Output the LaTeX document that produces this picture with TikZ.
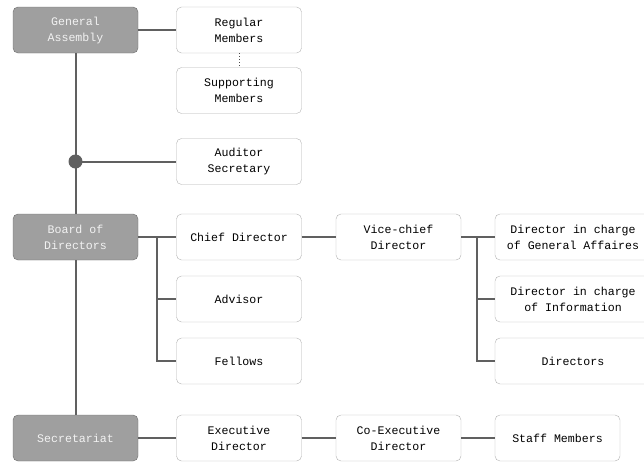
\documentclass[tikz,border=0pt]{standalone}
\usepackage{fontspec}
\setmonofont{Liberation Mono}
\begin{document}
\begin{tikzpicture}[x=1pt,y=-1pt,
  head/.style={draw=gray!85!black,fill=gray!75,rounded corners=5pt,minimum width=125pt,minimum height=46pt,
    text=gray!10,font=\ttfamily\fontsize{11.6}{16}\selectfont,align=center,inner sep=0pt},
  unit/.style={draw=gray!60,fill=white,rounded corners=5pt,minimum width=125pt,minimum height=46pt,
    text=black,font=\ttfamily\fontsize{11.6}{16}\selectfont,align=center,inner sep=0pt},
  link/.style={draw=gray!75!black,line width=2pt}]
  \useasboundingbox (0,0) rectangle (644,461);

  \node[head] (ga) at (75.5,30) {General\\Assembly};
  \node[head] (bd) at (75.5,237) {Board of\\Directors};
  \node[head] (sec) at (75.5,438) {Secretariat};

  \node[unit] (reg) at (239,30) {Regular\\Members};
  \node[unit] (sup) at (239,90.5) {Supporting\\Members};
  \node[unit] (aud) at (239,161.5) {Auditor\\Secretary};
  \node[unit] (chief) at (239,237) {Chief Director};
  \node[unit] (adv) at (239,299) {Advisor};
  \node[unit] (fel) at (239,361) {Fellows};
  \node[unit] (exec) at (239,438) {Executive\\Director};

  \node[unit] (vice) at (398.5,237) {Vice-chief\\Director};
  \node[unit] (coexec) at (398.5,438) {Co-Executive\\Director};

  \node[unit,minimum width=156pt] (gaff) at (573,237) {Director in charge\\of General Affaires};
  \node[unit,minimum width=156pt] (info) at (573,299) {Director in charge\\of Information};
  \node[unit,minimum width=156pt] (dirs) at (573,361) {Directors};
  \node[unit] (staff) at (557.5,438) {Staff Members};

  % trunk
  \coordinate (dot) at (75.5,161.5);
  \draw[link] (ga) -- (bd);
  \draw[link] (bd) -- (sec);
  \draw[link] (ga) -- (reg);
  \draw[gray!60!black,line width=1pt,dotted] (reg) -- (sup);
  \draw[link] (dot) -- (aud);
  \fill[gray!75!black] (dot) circle (7pt);

  % board branch
  \coordinate (bj) at (157,237);
  \draw[link] (bd) -- (chief);
  \draw[link] (bj) |- (fel);
  \draw[link] (bj |- adv) -- (adv);
  \draw[link] (chief) -- (vice);

  % vice branch
  \coordinate (vj) at (477,237);
  \draw[link] (vice) -- (gaff);
  \draw[link] (vj) |- (dirs);
  \draw[link] (vj |- info) -- (info);

  % secretariat line
  \draw[link] (sec) -- (exec);
  \draw[link] (exec) -- (coexec);
  \draw[link] (coexec) -- (staff);
\end{tikzpicture}
\end{document}
